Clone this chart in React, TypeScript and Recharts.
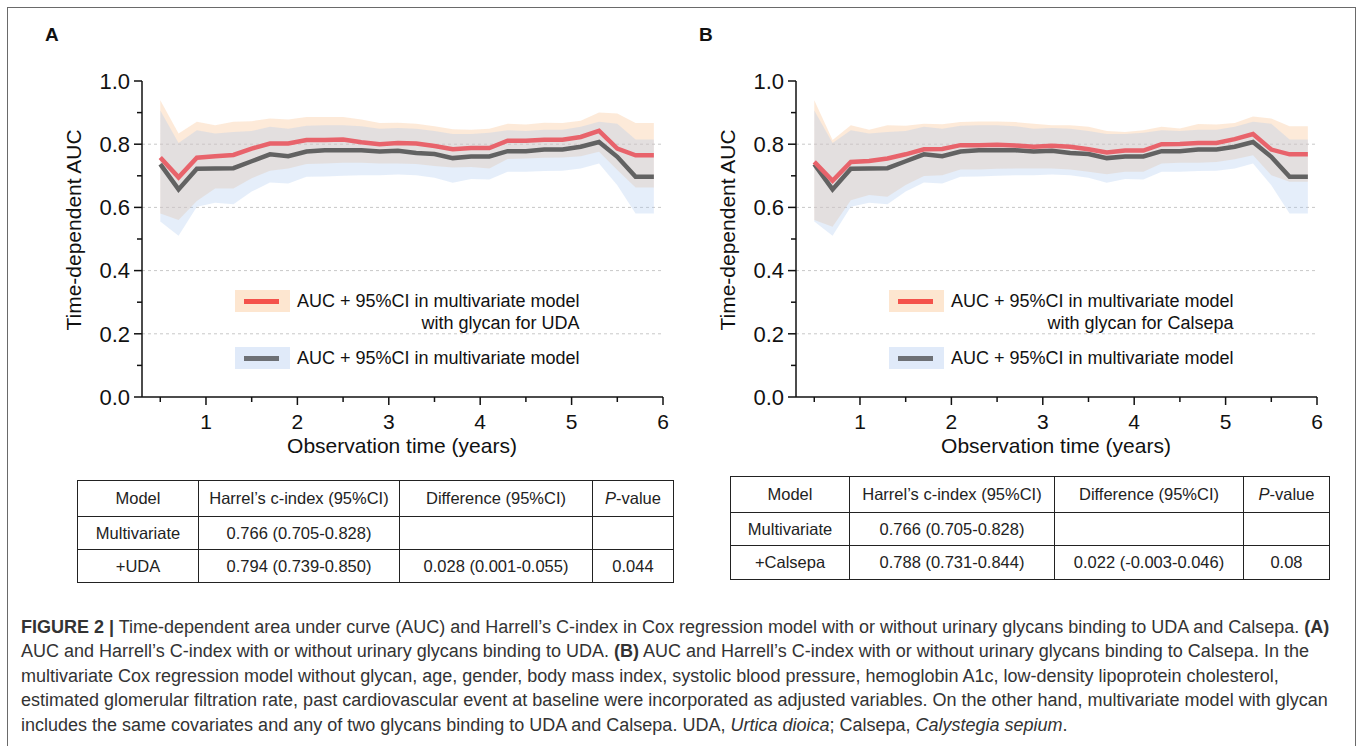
import React from 'react';
import { ComposedChart, Area, Line, XAxis, YAxis, CartesianGrid } from 'recharts';

// observation times (years)
const times = [0.5, 0.7, 0.9, 1.1, 1.3, 1.5, 1.7, 1.9, 2.1, 2.3, 2.5, 2.7, 2.9, 3.1, 3.3, 3.5, 3.7, 3.9, 4.1, 4.3, 4.5, 4.7, 4.9, 5.1, 5.3, 5.5, 5.7, 5.9];

// multivariate model (same in both panels)
const baseAuc = [0.737, 0.657, 0.722, 0.723, 0.724, 0.746, 0.768, 0.762, 0.777, 0.781, 0.781, 0.781, 0.777, 0.779, 0.772, 0.769, 0.756, 0.761, 0.761, 0.778, 0.778, 0.783, 0.783, 0.792, 0.807, 0.76, 0.697, 0.697];
const baseLow = [0.555, 0.51, 0.602, 0.615, 0.61, 0.65, 0.679, 0.676, 0.697, 0.698, 0.7, 0.702, 0.702, 0.704, 0.702, 0.694, 0.678, 0.69, 0.688, 0.713, 0.713, 0.715, 0.716, 0.723, 0.739, 0.67, 0.581, 0.581];
const baseHigh = [0.907, 0.804, 0.844, 0.834, 0.839, 0.842, 0.855, 0.849, 0.858, 0.86, 0.86, 0.857, 0.849, 0.851, 0.849, 0.842, 0.832, 0.832, 0.836, 0.844, 0.842, 0.846, 0.846, 0.855, 0.871, 0.865, 0.815, 0.815];

// with glycan for UDA
const udaAuc = [0.758, 0.695, 0.757, 0.762, 0.766, 0.786, 0.802, 0.802, 0.813, 0.813, 0.815, 0.806, 0.8, 0.804, 0.802, 0.794, 0.784, 0.788, 0.788, 0.811, 0.811, 0.814, 0.814, 0.823, 0.842, 0.786, 0.765, 0.765];
const udaLow = [0.581, 0.56, 0.62, 0.66, 0.66, 0.692, 0.716, 0.723, 0.737, 0.739, 0.741, 0.741, 0.739, 0.739, 0.737, 0.731, 0.726, 0.728, 0.723, 0.753, 0.755, 0.757, 0.758, 0.762, 0.776, 0.718, 0.663, 0.663];
const udaHigh = [0.939, 0.834, 0.871, 0.86, 0.871, 0.873, 0.881, 0.878, 0.886, 0.886, 0.886, 0.878, 0.867, 0.868, 0.865, 0.857, 0.847, 0.846, 0.849, 0.865, 0.862, 0.868, 0.867, 0.874, 0.9, 0.897, 0.867, 0.867];

// with glycan for Calsepa
const calAuc = [0.744, 0.684, 0.744, 0.747, 0.755, 0.768, 0.784, 0.785, 0.797, 0.797, 0.798, 0.796, 0.792, 0.795, 0.792, 0.784, 0.774, 0.78, 0.78, 0.8, 0.801, 0.804, 0.804, 0.816, 0.832, 0.783, 0.768, 0.768];
const calLow = [0.56, 0.539, 0.623, 0.639, 0.634, 0.671, 0.699, 0.702, 0.72, 0.72, 0.722, 0.723, 0.723, 0.723, 0.72, 0.713, 0.705, 0.713, 0.713, 0.739, 0.741, 0.741, 0.744, 0.752, 0.765, 0.702, 0.681, 0.681];
const calHigh = [0.939, 0.813, 0.86, 0.846, 0.86, 0.858, 0.865, 0.863, 0.87, 0.872, 0.872, 0.87, 0.865, 0.86, 0.86, 0.855, 0.842, 0.839, 0.844, 0.855, 0.85, 0.864, 0.862, 0.867, 0.888, 0.881, 0.857, 0.857];

const xTicks = [0.5, 1, 1.5, 2, 2.5, 3, 3.5, 4, 4.5, 5, 5.5, 6];
const yTicks = [0, 0.1, 0.2, 0.3, 0.4, 0.5, 0.6, 0.7, 0.8, 0.9, 1.0];
const gridValues = [0.2, 0.4, 0.6, 0.8];

const tableHead = ['Model', 'Harrel\u2019s c-index (95%CI)', 'Difference (95%CI)', 'P-value'];
const tableA = [
  ['Multivariate', '0.766 (0.705-0.828)', '', ''],
  ['+UDA', '0.794 (0.739-0.850)', '0.028 (0.001-0.055)', '0.044'],
];
const tableB = [
  ['Multivariate', '0.766 (0.705-0.828)', '', ''],
  ['+Calsepa', '0.788 (0.731-0.844)', '0.022 (-0.003-0.046)', '0.08'],
];

const FONT = '"Liberation Sans", Arial, Helvetica, sans-serif';
const INK = '#111';

const buildRows = (auc: number[], low: number[], high: number[]) =>
  times.map((t, i) => ({
    t,
    base: baseAuc[i],
    baseCI: [baseLow[i], baseHigh[i]],
    glycan: auc[i],
    glycanCI: [low[i], high[i]],
  }));

const XTick = (props: any) => {
  const { x, y, payload } = props;
  const v = payload.value;
  const major = Number.isInteger(v);
  const axisY = y - 17; // tickSize 8 + tickMargin 9
  return (
    <g>
      <line x1={x} x2={x} y1={axisY} y2={axisY + (major ? 8 : 5)} stroke={INK} strokeWidth={1.5} />
      {major && (
        <text x={x} y={y} dy="0.71em" textAnchor="middle" fontSize={21} fill={INK} fontFamily={FONT}>
          {v}
        </text>
      )}
    </g>
  );
};

const YTick = (props: any) => {
  const { x, y, payload } = props;
  const v = payload.value;
  const major = Math.round(v * 10) % 2 === 0;
  const axisX = x + 12; // tickSize 8 + tickMargin 4
  return (
    <g>
      <line x1={axisX} x2={axisX - (major ? 8 : 5)} y1={y} y2={y} stroke={INK} strokeWidth={1.5} />
      {major && (
        <text x={x} y={y} dy="0.355em" textAnchor="end" fontSize={22} fill={INK} fontFamily={FONT}>
          {v.toFixed(1)}
        </text>
      )}
    </g>
  );
};

const Panel = ({ left, letter, rows, glycanText }: any) => (
  <>
    <div style={{ position: 'absolute', left: left - 97, top: 24, fontSize: 19, fontWeight: 'bold', color: INK }}>{letter}</div>
    <div style={{ position: 'absolute', left: left - 82, top: 60 }}>
      <ComposedChart width={640} height={420} data={rows} margin={{ top: 21, right: 37, left: 0, bottom: 0 }}>
        <CartesianGrid horizontal vertical={false} horizontalValues={gridValues} stroke="#c8c8c8" strokeDasharray="3 3" />
        <XAxis
          dataKey="t"
          type="number"
          domain={[0.3, 6]}
          allowDataOverflow
          ticks={xTicks}
          interval={0}
          height={83}
          tickSize={8}
          tickMargin={9}
          tickLine={false}
          axisLine={{ stroke: INK, strokeWidth: 1.5 }}
          tick={(p: any) => <XTick {...p} />}
          label={{
            content: () => (
              <text x={342} y={393} textAnchor="middle" fontSize={21} fill={INK} fontFamily={FONT}>
                Observation time (years)
              </text>
            ),
          }}
        />
        <YAxis
          type="number"
          domain={[0, 1]}
          ticks={yTicks}
          interval={0}
          width={82}
          tickSize={8}
          tickMargin={4}
          tickLine={false}
          axisLine={{ stroke: INK, strokeWidth: 1.5 }}
          tick={(p: any) => <YTick {...p} />}
          label={{
            content: () => (
              <text
                x={13}
                y={170}
                transform="rotate(-90, 13, 170)"
                textAnchor="middle"
                dominantBaseline="central"
                fontSize={21}
                fill={INK}
                fontFamily={FONT}
              >
                Time-dependent AUC
              </text>
            ),
          }}
        />
        <Area dataKey="glycanCI" type="linear" stroke="none" fill="#f9c89a" fillOpacity={0.38} isAnimationActive={false} />
        <Area dataKey="baseCI" type="linear" stroke="none" fill="#a8c6f0" fillOpacity={0.3} isAnimationActive={false} />
        <Line dataKey="base" type="linear" stroke="#626262" strokeWidth={4.5} dot={false} isAnimationActive={false} />
        <Line dataKey="glycan" type="linear" stroke="#e8636b" strokeWidth={4.5} dot={false} isAnimationActive={false} />
      </ComposedChart>
    </div>
    {/* legend */}
    <div style={{ position: 'absolute', left: left + 93, top: 290, width: 55, height: 22, background: '#fde6d0' }}>
      <div style={{ position: 'absolute', left: 9, top: 8.5, width: 35, height: 5, background: '#f4524b' }} />
    </div>
    <div style={{ position: 'absolute', left: left + 155, top: 290, fontSize: 18, lineHeight: '22px', color: INK, display: 'inline-block', whiteSpace: 'nowrap' }}>
      <div>AUC + 95%CI in multivariate model</div>
      <div style={{ textAlign: 'right' }}>{glycanText}</div>
    </div>
    <div style={{ position: 'absolute', left: left + 93, top: 347, width: 55, height: 22, background: '#e0eaf9' }}>
      <div style={{ position: 'absolute', left: 9, top: 8.5, width: 35, height: 5, background: '#6d7075' }} />
    </div>
    <div style={{ position: 'absolute', left: left + 155, top: 347, fontSize: 18, lineHeight: '22px', color: INK, whiteSpace: 'nowrap' }}>
      AUC + 95%CI in multivariate model
    </div>
  </>
);

const DataTable = ({ left, top, widths, heights, body }: any) => {
  const cell = (w: number, h: number): React.CSSProperties => ({
    width: w,
    height: h,
    border: '1.5px solid #222',
    padding: 0,
    textAlign: 'center',
    verticalAlign: 'middle',
    whiteSpace: 'nowrap',
  });
  return (
    <table
      style={{
        position: 'absolute',
        left,
        top,
        borderCollapse: 'collapse',
        tableLayout: 'fixed',
        fontSize: 16.5,
        color: '#222',
        fontFamily: FONT,
      }}
    >
      <tbody>
        <tr>
          {tableHead.map((h, i) => (
            <td key={i} style={cell(widths[i], heights[0])}>
              {h === 'P-value' ? (
                <>
                  <i>P</i>-value
                </>
              ) : (
                h
              )}
            </td>
          ))}
        </tr>
        {body.map((r: string[], ri: number) => (
          <tr key={ri}>
            {r.map((c, i) => (
              <td key={i} style={cell(widths[i], heights[ri + 1])}>
                {c}
              </td>
            ))}
          </tr>
        ))}
      </tbody>
    </table>
  );
};

export default function App() {
  const rowsA = buildRows(udaAuc, udaLow, udaHigh);
  const rowsB = buildRows(calAuc, calLow, calHigh);
  return (
    <div style={{ position: 'fixed', left: 0, top: 0, width: 1358, height: 746, overflow: 'hidden', background: '#fff', fontFamily: FONT }}>
      <div style={{ position: 'absolute', left: 7, top: 7, width: 1349, height: 760, boxSizing: 'border-box', border: '1px solid #6a6a6a' }} />
      <Panel left={142} letter="A" rows={rowsA} glycanText="with glycan for UDA" />
      <Panel left={796} letter="B" rows={rowsB} glycanText="with glycan for Calsepa" />
      <DataTable left={77} top={480} widths={[120, 200, 192, 80]} heights={[35, 32, 32]} body={tableA} />
      <DataTable left={730} top={476} widths={[118, 204, 188, 85]} heights={[35, 32, 33]} body={tableB} />
      <div style={{ position: 'absolute', left: 21, top: 615, fontSize: 18, lineHeight: '24.4px', color: '#333', whiteSpace: 'nowrap' }}>
        <div>
          <b>FIGURE 2 |</b> Time-dependent area under curve (AUC) and Harrell’s C-index in Cox regression model with or without urinary glycans binding to UDA and Calsepa. <b>(A)</b>
        </div>
        <div>
          AUC and Harrell’s C-index with or without urinary glycans binding to UDA. <b>(B)</b> AUC and Harrell’s C-index with or without urinary glycans binding to Calsepa. In the
        </div>
        <div>
          multivariate Cox regression model without glycan, age, gender, body mass index, systolic blood pressure, hemoglobin A1c, low-density lipoprotein cholesterol,
        </div>
        <div>
          estimated glomerular filtration rate, past cardiovascular event at baseline were incorporated as adjusted variables. On the other hand, multivariate model with glycan
        </div>
        <div>
          includes the same covariates and any of two glycans binding to UDA and Calsepa. UDA, <i>Urtica dioica</i>; Calsepa, <i>Calystegia sepium</i>.
        </div>
      </div>
    </div>
  );
}
